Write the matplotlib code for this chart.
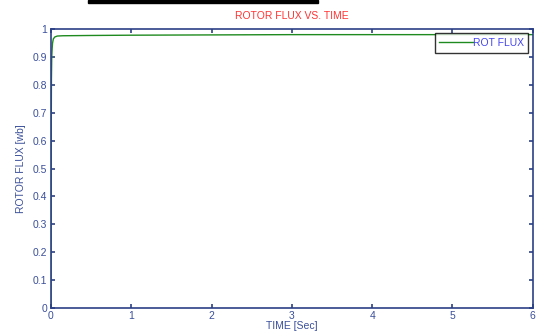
import matplotlib
matplotlib.use('Agg')
import matplotlib.pyplot as plt
from matplotlib.patches import Rectangle

# rotor flux data
t = [0, 0.003, 0.006, 0.01, 0.015, 0.02, 0.03, 0.05, 0.08, 0.15, 0.5, 1, 2, 3, 4, 5, 6]
flux = [0, 0.6, 0.82, 0.9, 0.93, 0.95, 0.965, 0.972, 0.975, 0.976, 0.977, 0.978, 0.979, 0.98, 0.98, 0.98, 0.98]
xticks = [0, 1, 2, 3, 4, 5, 6]
yticks = [0, 0.1, 0.2, 0.3, 0.4, 0.5, 0.6, 0.7, 0.8, 0.9, 1]

axcol = '#2b3f86'
txtcol = '#3a4f9a'

plt.rcParams['font.family'] = ['Liberation Sans', 'DejaVu Sans']

fig = plt.figure(figsize=(5.42, 3.34), dpi=100)
ax = fig.add_axes([0.094, 0.078, 0.889, 0.835])

ax.plot(t, flux, color='#1f8a1f', lw=1.0, label='ROT FLUX')
ax.set_xlim(0, 6)
ax.set_ylim(0, 1)
ax.set_xticks(xticks)
ax.set_yticks(yticks)
ax.set_xticklabels([str(x) for x in xticks])
ax.set_yticklabels(['0', '0.1', '0.2', '0.3', '0.4', '0.5', '0.6', '0.7', '0.8', '0.9', '1'])
ax.tick_params(direction='in', length=3, width=1.2, color=axcol, labelcolor=txtcol,
               labelsize=7.5, top=True, right=True, pad=2.5)
for s in ax.spines.values():
    s.set_color(axcol)
    s.set_linewidth(1.2)

ax.set_title('ROTOR FLUX VS. TIME', color='#ff3333', fontsize=7.5, pad=7)
ax.set_xlabel('TIME [Sec]', color=txtcol, fontsize=7.5, labelpad=0)
ax.set_ylabel('ROTOR FLUX [wb]', color=txtcol, fontsize=7.5, labelpad=5)

leg = ax.legend(loc='upper right', bbox_to_anchor=(0.991, 0.985), fontsize=7.5,
                frameon=True, fancybox=False, handlelength=3.2, handletextpad=0.0,
                borderpad=0.45, borderaxespad=0)
leg.get_frame().set_edgecolor('black')
leg.get_frame().set_linewidth(1.0)
for txt in leg.get_texts():
    txt.set_color('#4444ee')

# black bar at the top of the image
fig.patches.append(Rectangle((88 / 542, 1 - 3 / 334), 230 / 542, 3 / 334,
                             transform=fig.transFigure, color='black'))

fig.savefig('out.png', dpi=100)
